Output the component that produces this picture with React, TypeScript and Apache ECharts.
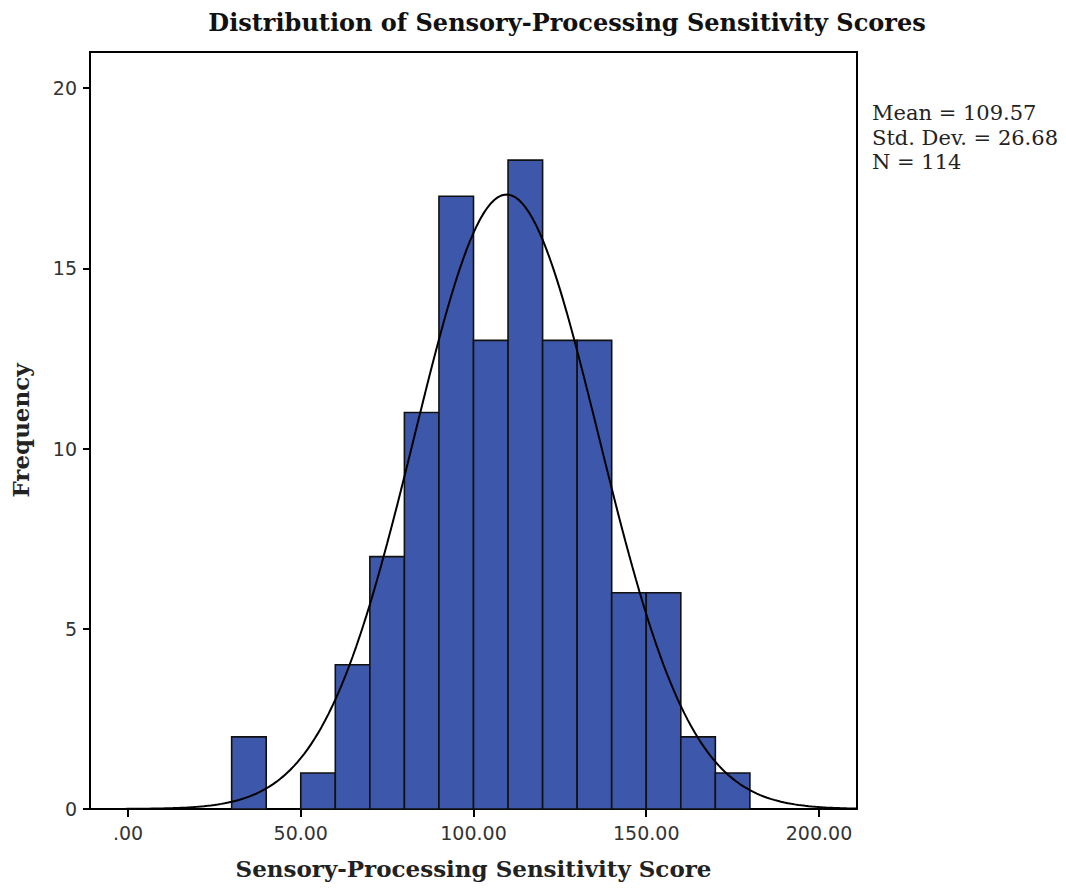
import React, { useEffect, useRef } from "react";
import * as echarts from "echarts";

const binStarts = [30, 50, 60, 70, 80, 90, 100, 110, 120, 130, 140, 150, 160, 170];
const binWidth = 10;
const frequencies = [2, 1, 4, 7, 11, 17, 13, 18, 13, 13, 6, 6, 2, 1];
const xTicks = [0, 50, 100, 150, 200];
const yTicks = [0, 5, 10, 15, 20];
const meanScore = 109.57;
const stdDev = 26.68;
const sampleN = 114;
const statLines = ["Mean = 109.57", "Std. Dev. = 26.68", "N = 114"];

const X_MIN = -11;
const X_MAX = 211;

function normalCurve(): number[][] {
  const pts: number[][] = [];
  const k = (sampleN * binWidth) / (stdDev * Math.sqrt(2 * Math.PI));
  for (let x = X_MIN; x <= X_MAX; x += 1) {
    const z = (x - meanScore) / stdDev;
    pts.push([x, k * Math.exp(-0.5 * z * z)]);
  }
  return pts;
}

export default function App() {
  const ref = useRef<HTMLDivElement>(null);
  useEffect(() => {
    if (!ref.current) return;
    const chart = echarts.init(ref.current, null, { renderer: "svg" });
    const serif = "'DejaVu Serif', serif";
    const sans = "'DejaVu Sans', sans-serif";
    const barData = binStarts.map((s, i) => [s, s + binWidth, frequencies[i]]);
    chart.setOption({
      animation: false,
      backgroundColor: "#fff",
      grid: {
        left: 90,
        right: 209,
        top: 52,
        bottom: 81,
        show: true,
        borderColor: "#000",
        borderWidth: 2,
        backgroundColor: "transparent",
        outerBoundsMode: "none",
        containLabel: false,
      },
      xAxis: {
        type: "value",
        min: X_MIN,
        max: X_MAX,
        name: "Sensory-Processing Sensitivity Score",
        nameLocation: "middle",
        nameGap: 48,
        nameTextStyle: { fontFamily: serif, fontWeight: "bold", fontSize: 23, color: "#222" },
        splitLine: { show: false },
        axisLine: { show: true, onZero: false, lineStyle: { color: "#000", width: 2 } },
        axisTick: { show: true, inside: false, length: 8, lineStyle: { color: "#000", width: 2 }, customValues: xTicks },
        axisLabel: {
          customValues: xTicks,
          margin: 14,
          fontFamily: sans,
          fontSize: 19,
          color: "#333",
          formatter: (v: number) => (v === 0 ? ".00" : v.toFixed(2)),
        },
      },
      yAxis: {
        type: "value",
        min: 0,
        max: 21,
        name: "Frequency",
        nameLocation: "middle",
        nameGap: 58,
        nameTextStyle: { fontFamily: serif, fontWeight: "bold", fontSize: 23, color: "#222" },
        splitLine: { show: false },
        axisLine: { show: true, onZero: false, lineStyle: { color: "#000", width: 2 } },
        axisTick: { show: true, inside: false, length: 7, lineStyle: { color: "#000", width: 2 }, customValues: yTicks },
        axisLabel: { customValues: yTicks, margin: 13, fontFamily: sans, fontSize: 19, color: "#333" },
      },
      graphic: [
        {
          type: "text",
          x: 567,
          y: 22,
          style: {
            text: "Distribution of Sensory-Processing Sensitivity Scores",
            font: "bold 24px 'DejaVu Serif', serif",
            fill: "#111",
            align: "center",
            verticalAlign: "middle",
          },
        },
        ...statLines.map((t, i) => ({
          type: "text",
          x: 872,
          y: 113 + i * 24.5,
          style: {
            text: t,
            font: "21px 'DejaVu Serif', serif",
            fill: "#222",
            align: "left",
            verticalAlign: "middle",
          },
        })),
      ],
      series: [
        {
          type: "custom",
          data: barData,
          encode: { x: [0, 1], y: 2 },
          renderItem: (params: any, api: any) => {
            const p0 = api.coord([api.value(0), api.value(2)]);
            const p1 = api.coord([api.value(1), 0]);
            return {
              type: "rect",
              shape: { x: p0[0], y: p0[1], width: p1[0] - p0[0], height: p1[1] - p0[1] },
              style: { fill: "#3d58aa", stroke: "#111", lineWidth: 1.6 },
            };
          },
          z: 2,
        },
        {
          type: "line",
          data: normalCurve(),
          showSymbol: false,
          symbol: "none",
          lineStyle: { color: "#000", width: 2 },
          z: 3,
        },
      ],
    });
    return () => chart.dispose();
  }, []);
  return <div ref={ref} style={{ position: "absolute", left: 0, top: 0, width: 1066, height: 890 }} />;
}
